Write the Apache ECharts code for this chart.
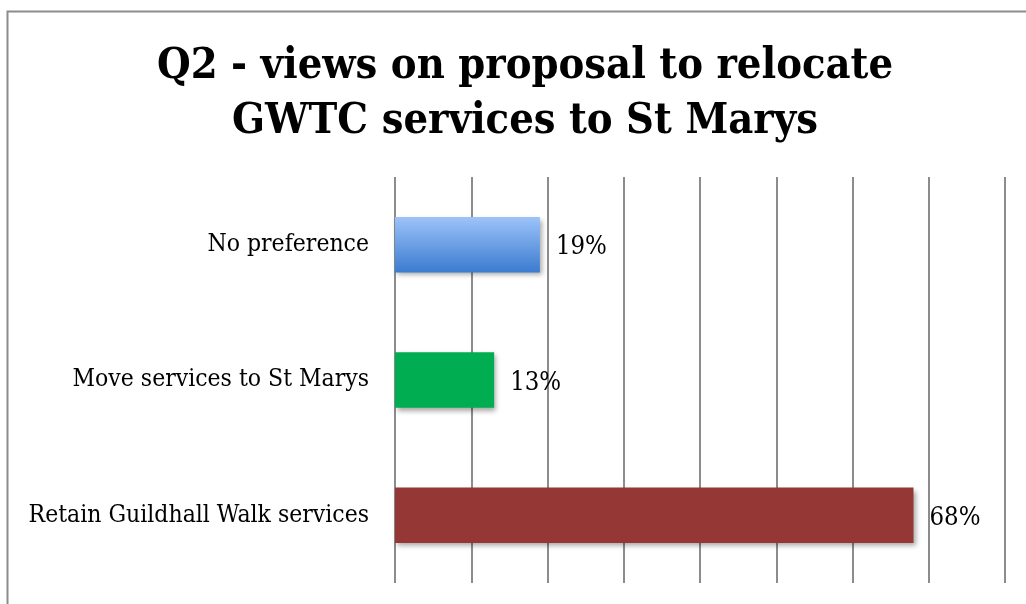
<!DOCTYPE html>
<html>
<head>
<meta charset="utf-8">
<script src="https://cdn.jsdelivr.net/npm/echarts@6/dist/echarts.min.js"></script>
<style>
  html, body { margin: 0; padding: 0; background: #fff; }
  #chart { width: 1026px; height: 604px; }
</style>
</head>
<body>
<div id="chart"></div>
<script>
// Survey answers, bottom to top as drawn on the category axis
const categories = ['Retain Guildhall Walk services', 'Move services to St Marys', 'No preference'];
const shares = [68, 13, 19];
const titleLines = ['Q2 - views on proposal to relocate', 'GWTC services to St Marys'];

const serif = '"DejaVu Serif Condensed", "DejaVu Serif", serif';

const barColors = [
  '#953735',
  '#00AD50',
  new echarts.graphic.LinearGradient(0, 0, 0, 1, [
    { offset: 0, color: '#9DC3FA' },
    { offset: 1, color: '#3B7BCF' }
  ])
];

const chart = echarts.init(document.getElementById('chart'), null, { renderer: 'canvas' });

chart.setOption({
  backgroundColor: '#fff',
  animation: false,
  title: {
    text: titleLines.join('\n'),
    left: 520,
    textAlign: 'center',
    top: 34,
    textStyle: {
      fontFamily: serif,
      fontWeight: 'bold',
      fontSize: 43,
      lineHeight: 55,
      color: '#000'
    }
  },
  graphic: [{
    type: 'rect',
    shape: { x: 7.5, y: 11.5, width: 1040, height: 620 },
    style: { fill: 'none', stroke: '#8c8c8c', lineWidth: 2 },
    silent: true
  }],
  grid: { left: 395, right: 21, top: 177, bottom: 21, containLabel: false },
  xAxis: {
    type: 'value',
    min: 0,
    max: 80,
    interval: 10,
    axisLine: { show: false },
    axisTick: { show: false },
    axisLabel: { show: false },
    splitLine: { show: true, lineStyle: { color: '#8c8c8c', width: 2 } }
  },
  yAxis: {
    type: 'category',
    data: categories,
    axisLine: { show: false },
    axisTick: { show: false },
    axisLabel: {
      margin: 26,
      fontFamily: serif,
      fontSize: 24.5,
      color: '#000'
    }
  },
  series: [{
    type: 'bar',
    data: shares.map((v, i) => ({ value: v, itemStyle: { color: barColors[i] } })),
    barCategoryGap: '59%',
    itemStyle: {
      shadowColor: 'rgba(0,0,0,0.35)',
      shadowBlur: 5,
      shadowOffsetX: 2,
      shadowOffsetY: 3
    },
    label: {
      show: true,
      position: 'right',
      distance: 16,
      formatter: '{c}%',
      fontFamily: serif,
      fontSize: 25.5,
      color: '#000',
      offset: [0, 3]
    }
  }]
});
</script>
</body>
</html>
